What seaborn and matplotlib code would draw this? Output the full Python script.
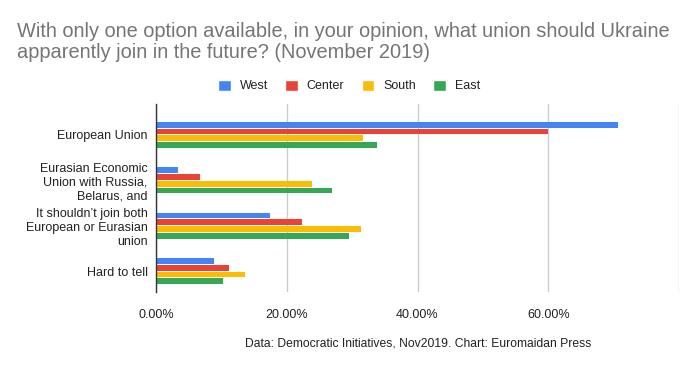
import numpy as np
import pandas as pd
import matplotlib.pyplot as plt
import seaborn as sns
from matplotlib.ticker import FuncFormatter

# ==========================================
# data
# ==========================================
categories = [
    "European Union",
    "Eurasian Economic\nUnion with Russia,\nBelarus, and",
    "It shouldn\u2019t join both\nEuropean or Eurasian\nunion",
    "Hard to tell",
]
regions = ["West", "Center", "South", "East"]
west = [70.6, 3.3, 17.5, 8.8]
center = [59.9, 6.8, 22.3, 11.1]
south = [31.6, 23.8, 31.3, 13.6]
east = [33.8, 26.9, 29.5, 10.2]
x_ticks = [0, 20, 40, 60, 80]

colors = ["#4285F4", "#EA4335", "#FBBC04", "#34A853"]

df = pd.DataFrame({"Option": categories, "West": west, "Center": center,
                   "South": south, "East": east})
long_df = df.melt(id_vars="Option", var_name="Region", value_name="Share")

sns.set_theme(style="white")
plt.rcParams["font.family"] = ["Liberation Sans", "DejaVu Sans"]

fig = plt.figure(figsize=(6.98, 3.71), dpi=100)
ax = fig.add_axes([156 / 698, 1 - 292 / 371, (679 - 156) / 698, (292 - 104) / 371])

sns.barplot(data=long_df, y="Option", x="Share", hue="Region", hue_order=regions,
            palette=colors, orient="h", width=0.6, ax=ax, saturation=1)

# thin the bars a little so there is a gap between them
for p in ax.patches:
    h = p.get_height()
    if h > 0:
        p.set_y(p.get_y() + (h - 0.13) / 2)
        p.set_height(0.13)
        p.set_linewidth(0)

ax.set_xlim(0, 80)
ax.set_ylim(3.46, -0.68)
ax.set_xticks(x_ticks)
ax.xaxis.set_major_formatter(FuncFormatter(lambda v, _: "" if v >= 80 else f"{v:.2f}%"))
ax.grid(axis="x", color="#cccccc", linewidth=1)
ax.set_axisbelow(True)
ax.set_xlabel("")
ax.set_ylabel("")
ax.tick_params(axis="both", length=0, labelsize=9, labelcolor="#222222")
ax.tick_params(axis="x", pad=12)
ax.tick_params(axis="y", pad=6)
for lbl in ax.get_yticklabels():
    lbl.set_horizontalalignment("right")
    lbl.set_multialignment("right")
    lbl.set_linespacing(1.18)

for side in ["top", "right", "bottom"]:
    ax.spines[side].set_visible(False)
ax.spines["left"].set_color("#333333")
ax.spines["left"].set_linewidth(1)

# legend above the plot, centred
sns.move_legend(ax, "center", bbox_to_anchor=(349 / 698, 1 - 86 / 371),
                bbox_transform=fig.transFigure, ncol=4, frameon=False, title=None,
                fontsize=9, handlelength=1.0, handleheight=1.0, columnspacing=1.4,
                handletextpad=0.7)
for t in ax.get_legend().get_texts():
    t.set_color("#222222")

fig.text(17 / 698, 1 - 42 / 371,
         "With only one option available, in your opinion, what union should Ukraine\n"
         "apparently join in the future? (November 2019)",
         ha="left", va="center", fontsize=14.4, color="#757575", linespacing=1.15)

fig.text(418 / 698, 1 - 344 / 371,
         "Data: Democratic Initiatives, Nov2019. Chart: Euromaidan Press",
         ha="center", va="center", fontsize=8.75, color="#222222")

fig.savefig("out.png", dpi=100)
